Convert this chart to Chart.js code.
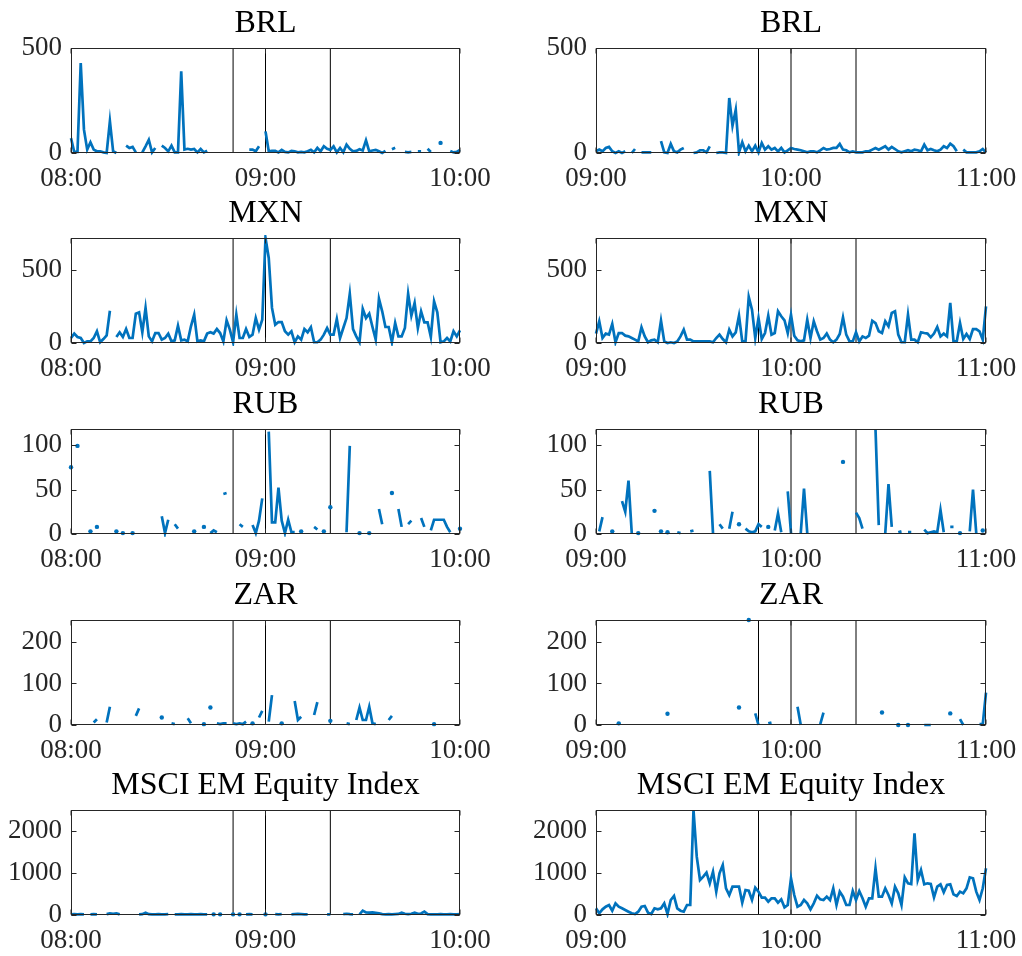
<!DOCTYPE html>
<html>
<head>
<meta charset="utf-8">
<title>EM FX and equity activity</title>
<script src="https://cdn.jsdelivr.net/npm/chart.js@4.4.0/dist/chart.umd.min.js"></script>
<style>
  body { margin: 0; background: #fff; }
  #fig { position: relative; width: 1022px; height: 956px; overflow: hidden; }
  #fig canvas { position: absolute; }
</style>
</head>
<body>
<div id="fig"></div>
<script>
const _ = null; // missing minute

// time axis: minutes into each two-hour window
const tickMinutes = [0, 60, 120];
const ticksEarly = ["08:00", "09:00", "10:00"];
const ticksLate = ["09:00", "10:00", "11:00"];
// vertical markers, minutes into the window
const eventMinutes = [50, 60, 80];

const titles = ["BRL", "MXN", "RUB", "ZAR", "MSCI EM Equity Index"];
const yMax = [500, 716, 118, 253, 2500];
const yTicks = [[0, 500], [0, 500], [0, 50, 100], [0, 100, 200], [0, 1000, 2000]];

// 08:00 - 10:00, one value per minute
const brl08 = [
  71, 5, 5, 428, 111, 16, 51, 16, 8, 8,
  3, 0, 151, 8, 0, _, _, 35, 24, 29,
  3, _, 3, 32, 63, 3, 24, _, 35, 24,
  8, 35, 3, 3, 389, 16, 20, 16, 19, 3,
  19, 3, 11, _, _, _, _, _, _, _,
  _, _, _, _, _, 16, 16, 8, 32, _,
  103, 8, 10, 10, 3, 15, 5, 3, 10, 8,
  3, 5, 3, 8, 15, 3, 24, 8, 32, 20,
  15, 32, 3, 24, 3, 40, 20, 8, 10, 18,
  12, 60, 8, 12, 15, 8, 0, 10, _, 18,
  25, _, _, 5, 3, 5, _, 8, 8, _,
  20, 5, _, _, 48, _, _, 10, 3, 5,
  15
];
const mxn08 = [
  34, 64, 41, 34, 0, 11, 11, 34, 80, 5,
  27, 52, 220, _, 41, 73, 41, 95, 34, 34,
  200, 209, 73, 239, 45, 11, 68, 68, 23, 34,
  64, 11, 18, 118, 18, 23, 11, 114, 193, 11,
  18, 11, 64, 73, 64, 95, 68, 11, 155, 91,
  5, 193, 34, 34, 95, 41, 57, 170, 91, 159,
  716, 580, 239, 125, 143, 143, 80, 57, 80, 5,
  45, 23, 95, 73, 107, 5, 5, 23, 57, 102,
  57, 57, 164, 34, 102, 170, 336, 95, 45, 5,
  232, 170, 200, 109, 23, 302, 216, 109, 109, 5,
  136, 45, 45, 102, 336, 186, 273, 102, 216, 141,
  141, 41, 284, 209, 5, 11, 34, 11, 80, 45,
  86
];
const rub08 = [
  75, _, 99, _, _, _, 3, _, 8, _,
  _, _, _, _, 3, _, 1, _, _, 1,
  _, _, _, _, _, _, _, _, 20, 1,
  16, _, 11, 6, _, _, _, _, 3, _,
  _, 8, _, 1, 4, 2, _, 45, 46, _,
  _, _, 11, 8, _, _, 10, 1, 15, 40,
  _, 115, 13, 13, 52, 15, 1, 16, 2, 2,
  _, 3, _, _, _, 8, 5, _, 3, _,
  30, _, _, _, _, 2, 99, _, _, 1,
  _, _, 1, _, _, 28, 11, _, _, 46,
  _, 28, 8, _, 11, 15, _, _, 18, 8,
  _, 4, 16, 16, 16, 16, 8, 2, _, _,
  6
];
const zar08 = [
  _, _, _, _, _, _, _, 6, 14, _,
  _, 6, 44, _, _, _, _, _, _, _,
  22, 40, _, _, _, _, _, _, 18, _,
  _, 4, 2, _, _, _, 16, 4, _, _,
  _, 2, _, 42, _, 4, 2, 4, 4, _,
  4, 2, 4, 2, 8, _, 4, _, 18, 34,
  _, 8, 72, _, _, 4, _, _, _, 58,
  12, 20, _, _, _, 24, 55, _, _, _,
  10, _, _, _, _, 4, 2, _, 12, 42,
  12, 12, 44, 4, 2, _, _, _, 12, 22,
  _, _, _, _, _, _, _, _, _, _,
  _, _, 2, _, _, _, _, _, _, _,
  _
];
const msci08 = [
  15, 20, 15, 20, 15, _, 15, 20, 15, _,
  _, 20, 40, 30, 40, 15, _, _, _, _,
  _, 15, 20, 55, 20, 15, 15, 20, 15, 15,
  20, _, 15, 15, 20, 15, 15, 20, 15, 15,
  20, 15, 15, _, 15, _, 15, _, _, _,
  15, _, 15, _, 15, 20, 15, _, _, _,
  15, _, _, 20, 15, 20, _, _, 15, 20,
  25, 20, 15, 15, _, _, _, _, _, 15,
  15, _, _, _, 20, 30, 20, 15, _, 15,
  103, 60, 55, 60, 50, 40, 20, 15, 20, 15,
  20, 25, 55, 30, 20, 30, 55, 30, 35, 80,
  20, 15, 15, 15, 20, 15, 15, 20, 15, 15,
  20
];

// 09:00 - 11:00, one value per minute
const brl09 = [
  8, 16, 8, 24, 29, 8, 0, 8, 0, 8,
  _, 0, 19, _, 3, 3, 3, 3, _, _,
  56, 3, 0, 43, 8, 3, 16, 24, _, _,
  0, 3, 13, 13, 3, 32, _, 0, 3, 3,
  0, 262, 130, 206, 3, 51, 8, 35, 8, 35,
  3, 48, 16, 32, 16, 24, 8, 24, 3, 13,
  24, 19, 16, 13, 8, 3, 8, 8, 3, 13,
  24, 16, 19, 24, 24, 43, 16, 13, 3, 8,
  3, 3, 3, 8, 8, 16, 24, 16, 24, 32,
  16, 29, 19, 8, 3, 8, 13, 8, 16, 13,
  8, 40, 13, 19, 13, 8, 16, 32, 24, 44,
  32, 8, _, 16, 3, 3, 3, 3, 8, 19,
  3
];
const mxn09 = [
  64, 148, 34, 64, 57, 130, 5, 68, 68, 50,
  45, 34, 23, 11, 107, 45, 5, 18, 23, 5,
  152, 11, 0, 5, 0, 11, 45, 91, 23, 23,
  11, 11, 11, 11, 11, 11, 5, 34, 57, 27,
  5, 91, 45, 73, 186, 11, 11, 314, 227, 34,
  170, 27, 68, 186, 57, 68, 216, 182, 155, 68,
  193, 50, 18, 11, 18, 159, 34, 148, 80, 23,
  34, 64, 23, 5, 23, 61, 175, 57, 11, 11,
  73, 11, 45, 34, 50, 152, 136, 80, 68, 148,
  114, 205, 216, 57, 5, 5, 193, 23, 23, 5,
  73, 68, 64, 39, 64, 109, 45, 64, 45, 273,
  11, 11, 136, 27, 61, 27, 95, 95, 80, 23,
  250
];
const rub09 = [
  _, 3, 19, _, _, 3, _, _, 37, 25,
  60, 1, _, 1, _, _, _, _, 26, _,
  3, _, 2, _, _, 2, 1, _, _, 3,
  4, _, _, _, _, 71, 1, _, 11, 6,
  _, 6, 25, _, 11, _, 6, 3, 2, 3,
  11, 8, _, 8, _, 4, 23, 2, _, 48,
  1, _, _, 1, 51, 1, _, _, _, _,
  _, _, _, _, _, _, 81, _, _, _,
  24, 18, 6, _, _, _, 118, 10, _, 1,
  56, 8, _, 2, 3, _, 2, 2, _, _,
  _, 5, 1, 2, 3, 2, 27, 2, _, 8,
  8, _, 1, _, _, 3, 50, 1, _, 4,
  _
];
const zar09 = [
  _, _, _, _, _, _, _, 4, _, _,
  _, _, _, _, _, _, _, _, _, _,
  _, _, 27, _, _, _, _, _, _, _,
  _, _, _, _, _, _, _, _, _, _,
  _, _, _, _, 42, _, _, 253, _, 28,
  0, _, _, 4, 6, _, _, _, _, _,
  _, _, 44, 0, _, _, _, _, _, 2,
  30, _, _, _, _, _, _, _, _, _,
  _, _, _, _, _, _, _, _, 30, _,
  _, _, _, 0, _, _, 0, _, _, _,
  _, 0, 0, 0, _, _, _, _, _, 28,
  _, _, 14, 0, _, _, _, _, 2, 2,
  78
];
const msci09 = [
  159, 40, 135, 198, 238, 103, 278, 198, 159, 119,
  79, 40, 24, 79, 198, 214, 56, 24, 159, 135,
  159, 278, 24, 357, 452, 159, 103, 79, 238, 238,
  2500, 1389, 833, 913, 1008, 754, 1032, 556, 992, 1190,
  635, 476, 675, 675, 675, 294, 595, 579, 357, 651,
  556, 413, 413, 317, 397, 397, 294, 373, 183, 238,
  873, 476, 198, 238, 357, 278, 135, 278, 460, 373,
  357, 437, 357, 635, 238, 556, 437, 238, 238, 571,
  357, 571, 397, 198, 397, 397, 1111, 437, 437, 635,
  476, 278, 675, 516, 238, 897, 754, 738, 1944, 833,
  1071, 730, 754, 738, 421, 675, 730, 540, 714, 730,
  492, 452, 556, 516, 635, 897, 873, 556, 357, 635,
  1111
];

const series = [
  [brl08, brl09],
  [mxn08, mxn09],
  [rub08, rub09],
  [zar08, zar09],
  [msci08, msci09]
];

// panel geometry
const plotTop = [48, 238, 429, 620, 810];
const plotH = 105;
const headroom = 48;
const xAxisH = 42;
const cols = [
  { left: 0, width: 520, axisW: 71, plotW: 389, labels: ticksEarly },
  { left: 520, width: 502, axisW: 76, plotW: 390, labels: ticksLate }
];
const lineBlue = "#0072BD";
const axisGrey = "#262626";
const serif = '"Liberation Serif", "Times New Roman", serif';

// box, inward ticks, markers and the panel title
const framePlugin = {
  id: "frame",
  beforeDatasetsDraw(chart) {
    const { ctx, chartArea: a, scales: { x } } = chart;
    ctx.save();
    ctx.strokeStyle = "#000";
    ctx.lineWidth = 1;
    eventMinutes.forEach((m) => {
      const px = x.getPixelForValue(m);
      ctx.beginPath();
      ctx.moveTo(px, a.top);
      ctx.lineTo(px, a.bottom);
      ctx.stroke();
    });
    ctx.restore();
  },
  afterDraw(chart, args, opts) {
    const { ctx, chartArea: a, scales: { x, y } } = chart;
    const l = Math.round(a.left) + 0.5, r = Math.round(a.right) - 0.5;
    const t = Math.round(a.top) + 0.5, b = Math.round(a.bottom) - 0.5;
    ctx.save();
    ctx.strokeStyle = axisGrey;
    ctx.lineWidth = 1;
    ctx.strokeRect(l, t, r - l, b - t);
    ctx.beginPath();
    y.ticks.forEach((tk) => {
      const py = Math.round(y.getPixelForValue(tk.value)) + 0.5;
      ctx.moveTo(l, py); ctx.lineTo(l + 5, py);
      ctx.moveTo(r, py); ctx.lineTo(r - 5, py);
    });
    x.ticks.forEach((tk) => {
      const px = x.getPixelForValue(tk.value);
      ctx.moveTo(px, b); ctx.lineTo(px, b - 5);
      ctx.moveTo(px, t); ctx.lineTo(px, t + 5);
    });
    ctx.stroke();
    ctx.fillStyle = "#000";
    ctx.font = "32px " + serif;
    ctx.textAlign = "center";
    ctx.textBaseline = "alphabetic";
    ctx.fillText(opts.title, (a.left + a.right) / 2, a.top - 16);
    ctx.restore();
  }
};

// dots only where a minute has no neighbours
function loneRadius(c) {
  const d = c.dataset.data, i = c.dataIndex;
  const prev = i > 0 ? d[i - 1].y : null;
  const next = i < d.length - 1 ? d[i + 1].y : null;
  return prev === null && next === null ? 2.2 : 0;
}

const fig = document.getElementById("fig");

titles.forEach((title, row) => {
  cols.forEach((col, ci) => {
    const canvas = document.createElement("canvas");
    const h = headroom + plotH + xAxisH;
    canvas.width = col.width;
    canvas.height = h;
    canvas.style.left = col.left + "px";
    canvas.style.top = plotTop[row] - headroom + "px";
    canvas.style.width = col.width + "px";
    canvas.style.height = h + "px";
    fig.appendChild(canvas);

    const values = series[row][ci];

    new Chart(canvas, {
      type: "line",
      data: {
        datasets: [{
          data: values.map((v, i) => ({ x: i, y: v })),
          borderColor: lineBlue,
          backgroundColor: lineBlue,
          borderWidth: 2.7,
          pointRadius: loneRadius,
          pointBorderWidth: 0,
          pointHoverRadius: 0,
          tension: 0,
          spanGaps: false,
          clip: 3
        }]
      },
      options: {
        responsive: false,
        animation: false,
        devicePixelRatio: 1,
        events: [],
        layout: {
          padding: { left: 0, top: headroom, right: col.width - col.axisW - col.plotW, bottom: 0 }
        },
        plugins: {
          legend: { display: false },
          tooltip: { enabled: false },
          frame: { title }
        },
        scales: {
          x: {
            type: "linear",
            min: 0,
            max: 120,
            grid: { display: false, drawTicks: false },
            border: { display: false },
            afterBuildTicks: (s) => { s.ticks = tickMinutes.map((v) => ({ value: v })); },
            afterFit: (s) => { s.height = xAxisH; s.paddingLeft = 0; s.paddingRight = 0; },
            ticks: {
              maxRotation: 0,
              padding: 10,
              color: axisGrey,
              font: { family: serif, size: 27 },
              callback: (v) => col.labels[tickMinutes.indexOf(v)]
            }
          },
          y: {
            min: 0,
            max: yMax[row],
            grid: { display: false, drawTicks: false },
            border: { display: false },
            afterBuildTicks: (s) => { s.ticks = yTicks[row].map((v) => ({ value: v })); },
            afterFit: (s) => { s.width = col.axisW; },
            ticks: {
              padding: 9,
              color: axisGrey,
              font: { family: serif, size: 27 },
              callback: (v) => String(v)
            }
          }
        }
      },
      plugins: [framePlugin]
    });
  });
});
</script>
</body>
</html>
